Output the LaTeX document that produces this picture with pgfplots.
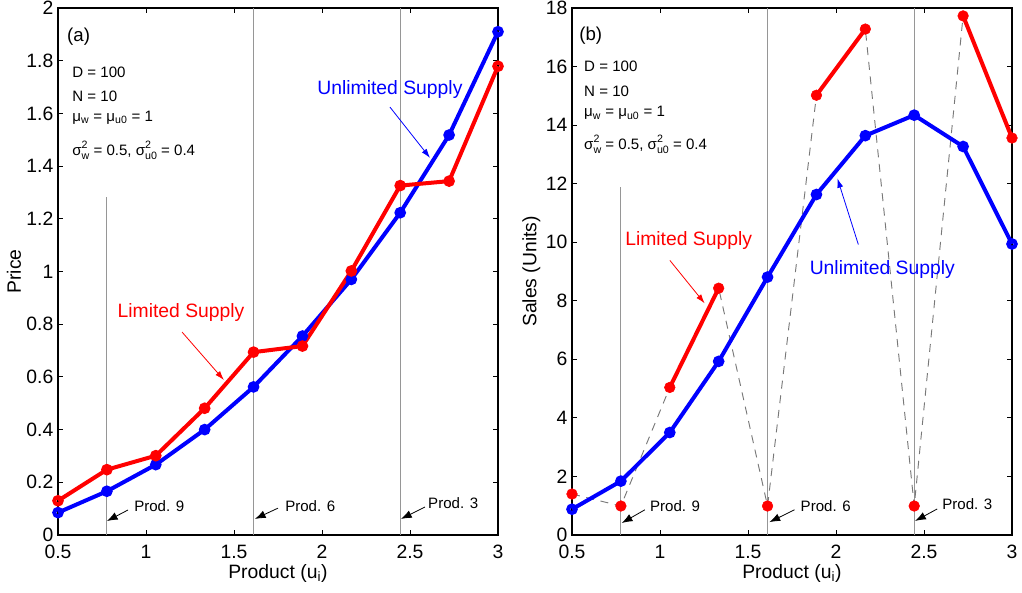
\documentclass[border=0pt]{standalone}
\usepackage{fontspec}
\setmainfont{Liberation Sans}
\usepackage{pgfplots}
\pgfplotsset{compat=1.18}
\usetikzlibrary{arrows.meta}

\definecolor{vline}{RGB}{150,150,150}
\definecolor{dline}{RGB}{120,120,120}

\newcommand{\bigf}{\fontsize{14.5}{17}\selectfont}
\newcommand{\smallf}{\fontsize{11.3}{13}\selectfont}
\newcommand{\scr}{\fontsize{8}{9}\selectfont}
% sigma with stacked superscript 2 and subscript
\newcommand{\sig}[1]{σ\rlap{\raisebox{5.2pt}{\scr 2}}\raisebox{-3pt}{\scr #1}}
\newcommand{\sw}{\sig{w}}
\newcommand{\su}{\sig{u0}}

\tikzset{
  parr/.style={black, line width=0.6pt, -{Latex[length=8pt,width=6pt]}},
  carr/.style={line width=0.6pt, -{Latex[length=7pt,width=4.5pt]}},
}
\pgfplotsset{
  panel/.style={
    scale only axis, width=330pt, height=395.25pt,
    xmin=0.5, xmax=3, xtick={0.5,1,1.5,2,2.5,3},
    tick align=inside, xtick pos=both, ytick pos=both,
    major tick length=4pt,
    axis line style={line width=0.9pt},
    tick style={line width=0.6pt, black},
    tick label style={font=\bigf, inner sep=0.5pt},
    xticklabel style={yshift=-7pt},
    yticklabel style={xshift=-2.8pt},
    label style={font=\bigf},
    /pgf/number format/assume math mode=true,
    xlabel={Product (u\textsubscript{i})},
    clip=false,
  },
  vl/.style={vline, line width=0.9pt, forget plot},
  blu/.style={blue, line width=3pt, mark=o, mark size=2.8pt},
  rd/.style={red, line width=3pt, mark=o, mark size=2.8pt},
}

\begin{document}
\begin{tikzpicture}
\useasboundingbox (-43.5pt,-43.5pt) rectangle (723pt,401.25pt);

% (a) price
\begin{axis}[panel, at={(0,0)}, anchor=south west,
  ymin=0, ymax=2, ytick={0,0.2,...,2}, ylabel={Price}]
\addplot[vl] coordinates {(0.7778,0) (0.7778,1.283)};
\addplot[vl] coordinates {(1.6111,0) (1.6111,2)};
\addplot[vl] coordinates {(2.4444,0) (2.4444,2)};
\addplot[blu] coordinates {(0.5,0.085) (0.7778,0.166) (1.0556,0.267) (1.3333,0.400) (1.6111,0.562) (1.8889,0.755) (2.1667,0.970) (2.4444,1.223) (2.7222,1.518) (3,1.910)};
\addplot[rd] coordinates {(0.5,0.130) (0.7778,0.248) (1.0556,0.301) (1.3333,0.481) (1.6111,0.694) (1.8889,0.717) (2.1667,1.002) (2.4444,1.326) (2.7222,1.343) (3,1.779)};
\node[anchor=west, inner sep=0, font=\fontsize{14}{16}\selectfont] at (axis cs:0.551,1.89) {(a)};
\node[anchor=west, inner sep=0, font=\smallf] at (axis cs:0.58,1.757) {D = 100};
\node[anchor=west, inner sep=0, font=\smallf] at (axis cs:0.58,1.666) {N = 10};
\node[anchor=west, inner sep=0, font=\smallf] at (axis cs:0.58,1.583) {μ\textsubscript{w} = μ\textsubscript{u0} = 1};
\node[anchor=west, inner sep=0, font=\smallf] at (axis cs:0.58,1.461) {\sw\ = 0.5, \su\ = 0.4};
\node[blue, inner sep=0, font=\bigf] at (axis cs:2.386,1.689) {Unlimited Supply};
\draw[carr, blue] (axis cs:2.386,1.624) -- (axis cs:2.614,1.431);
\node[red, inner sep=0, font=\bigf] at (axis cs:1.199,0.846) {Limited Supply};
\draw[carr, red] (axis cs:1.205,0.770) -- (axis cs:1.443,0.588);
\node[anchor=west, inner sep=0, font=\smallf] at (axis cs:0.932,0.110) {Prod. 9};
\draw[parr] (axis cs:0.898,0.095) -- (axis cs:0.778,0.053);
\node[anchor=west, inner sep=0, font=\smallf] at (axis cs:1.790,0.110) {Prod. 6};
\draw[parr] (axis cs:1.750,0.102) -- (axis cs:1.619,0.061);
\node[anchor=west, inner sep=0, font=\smallf] at (axis cs:2.602,0.121) {Prod. 3};
\draw[parr] (axis cs:2.585,0.106) -- (axis cs:2.449,0.061);
\end{axis}

% (b) sales
\begin{axis}[panel, at={(385.5pt,0)}, anchor=south west,
  ymin=0, ymax=18, ytick={0,2,...,18}, ylabel={Sales (Units)}]
\addplot[vl] coordinates {(0.7778,0) (0.7778,11.9)};
\addplot[vl] coordinates {(1.6111,0) (1.6111,18)};
\addplot[vl] coordinates {(2.4444,0) (2.4444,18)};
\addplot[dline, line width=0.7pt, dash pattern=on 6pt off 5pt, forget plot] coordinates {(0.5,1.40) (0.7778,0.99) (1.0556,5.04) (1.3333,8.43) (1.6111,0.99) (1.8889,15.02) (2.1667,17.28) (2.4444,0.99) (2.7222,17.73) (3,13.56)};
\addplot[blu] coordinates {(0.5,0.88) (0.7778,1.84) (1.0556,3.50) (1.3333,5.93) (1.6111,8.81) (1.8889,11.63) (2.1667,13.64) (2.4444,14.34) (2.7222,13.27) (3,9.94)};
\addplot[red, line width=3pt, forget plot] coordinates {(1.0556,5.04) (1.3333,8.43)};
\addplot[red, line width=3pt, forget plot] coordinates {(1.8889,15.02) (2.1667,17.28)};
\addplot[red, line width=3pt, forget plot] coordinates {(2.7222,17.73) (3,13.56)};
\addplot[only marks, red, mark=*, mark size=4pt] coordinates {(0.5,1.40) (0.7778,0.99) (1.0556,5.04) (1.3333,8.43) (1.6111,0.99) (1.8889,15.02) (2.1667,17.28) (2.4444,0.99) (2.7222,17.73) (3,13.56)};
\node[anchor=west, inner sep=0, font=\fontsize{14}{16}\selectfont] at (axis cs:0.54,17.04) {(b)};
\node[anchor=west, inner sep=0, font=\smallf] at (axis cs:0.568,16.02) {D = 100};
\node[anchor=west, inner sep=0, font=\smallf] at (axis cs:0.568,15.16) {N = 10};
\node[anchor=west, inner sep=0, font=\smallf] at (axis cs:0.568,14.41) {μ\textsubscript{w} = μ\textsubscript{u0} = 1};
\node[anchor=west, inner sep=0, font=\smallf] at (axis cs:0.568,13.35) {\sw\ = 0.5, \su\ = 0.4};
\node[red, inner sep=0, font=\bigf] at (axis cs:1.163,10.06) {Limited Supply};
\draw[carr, red] (axis cs:1.056,9.38) -- (axis cs:1.254,7.91);
\node[blue, inner sep=0, font=\bigf] at (axis cs:2.263,9.07) {Unlimited Supply};
\draw[carr, blue] (axis cs:2.127,9.92) -- (axis cs:2.008,12.18);
\node[anchor=west, inner sep=0, font=\smallf] at (axis cs:0.942,0.99) {Prod. 9};
\draw[parr] (axis cs:0.914,0.86) -- (axis cs:0.783,0.41);
\node[anchor=west, inner sep=0, font=\smallf] at (axis cs:1.798,0.99) {Prod. 6};
\draw[parr] (axis cs:1.764,0.86) -- (axis cs:1.622,0.44);
\node[anchor=west, inner sep=0, font=\smallf] at (axis cs:2.603,1.06) {Prod. 3};
\draw[parr] (axis cs:2.575,0.89) -- (axis cs:2.450,0.48);
\end{axis}
\end{tikzpicture}
\end{document}
